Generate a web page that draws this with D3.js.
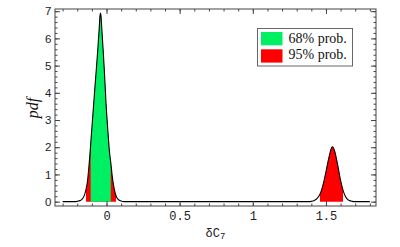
<!DOCTYPE html>
<html>
<head>
<meta charset="utf-8">
<script src="https://cdn.jsdelivr.net/npm/d3@7"></script>
<style>
  body { margin: 0; background: #fff; }
  #chart { width: 400px; height: 247px; }
</style>
</head>
<body>
<div id="chart"></div>
<script>
// pdf curve (x = deltaC7, y = pdf)
var deltaC7 = [-0.30, -0.22, -0.20, -0.18, -0.165, -0.15, -0.14, -0.13, -0.12, -0.10, -0.08, -0.06, -0.05, -0.045, -0.042, -0.038, -0.035, -0.025, -0.015, -0.003, 0.01, 0.02, 0.03, 0.04, 0.05, 0.06, 0.07, 0.085, 0.10, 0.12,
  1.38, 1.40, 1.42, 1.44, 1.46, 1.48, 1.50, 1.52, 1.54, 1.545, 1.56, 1.58, 1.60, 1.62, 1.64, 1.66, 1.68, 1.70, 1.80];
var pdfValues = [0, 0, 0.01, 0.04, 0.10, 0.25, 0.45, 0.75, 1.3, 2.7, 4.15, 5.55, 6.35, 6.8, 6.93, 6.85, 6.6, 5.75, 4.85, 3.6, 2.55, 1.85, 1.4, 0.9, 0.55, 0.3, 0.15, 0.06, 0.02, 0,
  0, 0.01, 0.04, 0.12, 0.28, 0.62, 1.10, 1.62, 2.0, 2.02, 1.85, 1.35, 0.78, 0.36, 0.13, 0.04, 0.01, 0, 0];

// probability intervals
var interval68 = [[-0.108, 0.029]];
var interval95 = [[-0.140, 0.065], [1.459, 1.617]];

var legendLabels = ["68% prob.", "95% prob."];
var xMajorTicks = [0, 0.5, 1, 1.5];
var yMajorTicks = [0, 1, 2, 3, 4, 5, 6, 7];

var green = "#00f064", red = "#ff0000";

var margin = { top: 9, right: 24, bottom: 41, left: 55 },
    width = 400 - margin.left - margin.right,
    height = 247 - margin.top - margin.bottom;

var svg = d3.select("#chart").append("svg")
  .attr("width", 400).attr("height", 247)
  .append("g")
  .attr("transform", "translate(" + margin.left + "," + margin.top + ")");

var x = d3.scaleLinear().domain([-0.352, 1.842]).range([0, width]);
var y = d3.scaleLinear().domain([-0.16, 7.08]).range([height, 0]);

var data = deltaC7.map(function (d, i) { return { x: d, y: pdfValues[i] }; });

var area = d3.area()
  .x(function (d) { return x(d.x); })
  .y0(y(0))
  .y1(function (d) { return y(d.y); })
  .curve(d3.curveMonotoneX);
var line = d3.line()
  .x(function (d) { return x(d.x); })
  .y(function (d) { return y(d.y); })
  .curve(d3.curveMonotoneX);

// shaded bands: clip the full area to each interval
function band(intervals, color, id) {
  intervals.forEach(function (iv, i) {
    var cid = id + i;
    svg.append("clipPath").attr("id", cid)
      .append("rect")
      .attr("x", x(iv[0])).attr("width", x(iv[1]) - x(iv[0]))
      .attr("y", 0).attr("height", height);
    svg.append("path").datum(data)
      .attr("d", area)
      .attr("fill", color)
      .attr("clip-path", "url(#" + cid + ")");
  });
}
band(interval95, red, "c95_");
band(interval68, green, "c68_");

svg.append("path").datum(data)
  .attr("d", line)
  .attr("fill", "none")
  .attr("stroke", "#000")
  .attr("stroke-width", 1.1);

// ticks on all four sides, pointing inward
var xMinor = d3.range(-3, 19).map(function (d) { return d / 10; });
var yMinor = d3.range(0, 36).map(function (d) { return d / 5; });

function styleAxis(g) {
  g.select(".domain").remove();
  g.selectAll("line").attr("stroke", "#444");
}

svg.append("g").attr("transform", "translate(0," + height + ")")
  .call(d3.axisBottom(x).tickValues(xMinor).tickSize(-2.5).tickFormat(""))
  .call(styleAxis);
svg.append("g").attr("transform", "translate(0," + height + ")")
  .call(d3.axisBottom(x).tickValues(xMajorTicks).tickSize(-5).tickPadding(5.5)
    .tickFormat(function (d) { return d === 0 ? "0" : String(d); }))
  .call(styleAxis)
  .selectAll("text")
  .style("font-family", "'Liberation Mono', monospace")
  .style("font-size", "12px")
  .attr("fill", "#222");
svg.append("g")
  .call(d3.axisTop(x).tickValues(xMinor).tickSize(-2.5).tickFormat(""))
  .call(styleAxis);
svg.append("g")
  .call(d3.axisTop(x).tickValues(xMajorTicks).tickSize(-5).tickFormat(""))
  .call(styleAxis);

svg.append("g")
  .call(d3.axisLeft(y).tickValues(yMinor).tickSize(-2.5).tickFormat(""))
  .call(styleAxis);
svg.append("g")
  .call(d3.axisLeft(y).tickValues(yMajorTicks).tickSize(-5).tickPadding(3.5))
  .call(styleAxis)
  .selectAll("text")
  .style("font-family", "'Liberation Sans', sans-serif")
  .style("font-size", "11.5px")
  .attr("fill", "#222");
svg.append("g").attr("transform", "translate(" + width + ",0)")
  .call(d3.axisRight(y).tickValues(yMinor).tickSize(-2.5).tickFormat(""))
  .call(styleAxis);
svg.append("g").attr("transform", "translate(" + width + ",0)")
  .call(d3.axisRight(y).tickValues(yMajorTicks).tickSize(-5).tickFormat(""))
  .call(styleAxis);

// frame
svg.append("rect")
  .attr("x", 0).attr("y", 0).attr("width", width).attr("height", height)
  .attr("fill", "none").attr("stroke", "#444").attr("stroke-width", 1);

// axis titles
var xt = svg.append("text")
  .attr("x", width / 2).attr("y", height + 30.5)
  .attr("text-anchor", "middle")
  .style("font-family", "'Liberation Mono', monospace")
  .style("font-size", "12px")
  .attr("fill", "#222");
xt.append("tspan").text("δC");
xt.append("tspan").attr("dy", 2.5).style("font-size", "9px").text("7");

svg.append("text")
  .attr("transform", "translate(" + (-17) + "," + (108 - margin.top) + ") rotate(-90)")
  .attr("text-anchor", "middle")
  .style("font-family", "'Liberation Serif', serif")
  .style("font-style", "italic")
  .style("font-size", "16px")
  .attr("fill", "#111")
  .text("pdf");

// legend
var legend = svg.append("g").attr("transform", "translate(" + (257.5 - margin.left) + "," + (28.5 - margin.top) + ")");
legend.append("rect")
  .attr("width", 95).attr("height", 37.5)
  .attr("fill", "#fff").attr("stroke", "#666").attr("stroke-width", 1);
[green, red].forEach(function (c, i) {
  legend.append("rect")
    .attr("x", 3.5).attr("y", 3.5 + i * 17.3)
    .attr("width", 21.5).attr("height", 13.3)
    .attr("fill", c);
  legend.append("text")
    .attr("x", 31).attr("y", 14.3 + i * 16.6)
    .style("font-family", "'Liberation Serif', serif")
    .style("font-size", "14px")
    .attr("fill", "#111")
    .text(legendLabels[i]);
});
</script>
</body>
</html>
